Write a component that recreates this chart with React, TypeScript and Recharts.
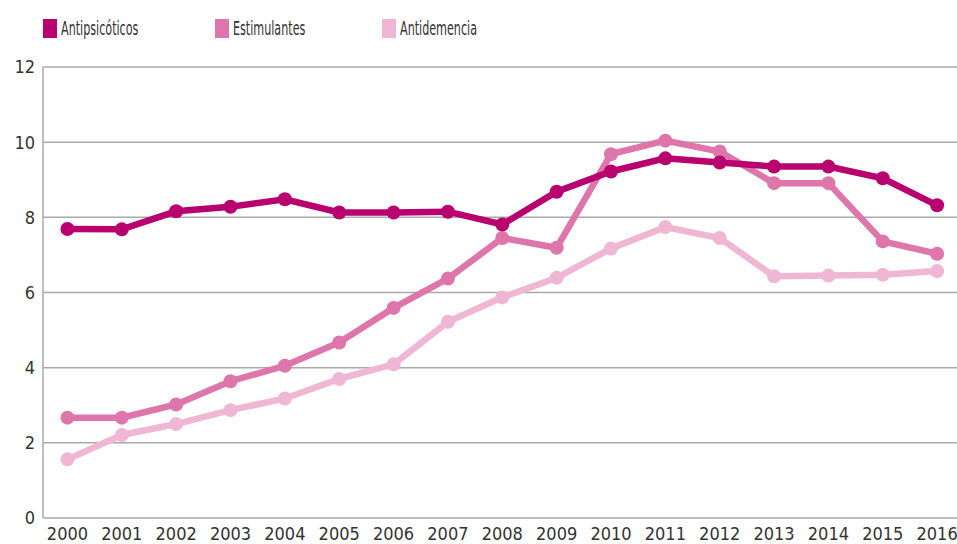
import React from 'react';
import { LineChart, Line, XAxis, YAxis, CartesianGrid } from 'recharts';

const years = ['2000', '2001', '2002', '2003', '2004', '2005', '2006', '2007', '2008', '2009', '2010', '2011', '2012', '2013', '2014', '2015', '2016'];
const antipsicoticos = [7.69, 7.68, 8.16, 8.28, 8.48, 8.13, 8.13, 8.15, 7.81, 8.68, 9.22, 9.57, 9.46, 9.35, 9.35, 9.04, 8.32];
const estimulantes = [2.67, 2.67, 3.02, 3.64, 4.05, 4.67, 5.59, 6.37, 7.45, 7.19, 9.68, 10.04, 9.75, 8.91, 8.91, 7.36, 7.03];
const antidemencia = [1.56, 2.21, 2.5, 2.87, 3.18, 3.7, 4.09, 5.22, 5.87, 6.39, 7.17, 7.74, 7.45, 6.43, 6.45, 6.47, 6.57];
const yTicks = [0, 2, 4, 6, 8, 10, 12];

const series = [
  { key: 'antipsicoticos', name: 'Antipsicóticos', color: '#b8006e' },
  { key: 'estimulantes', name: 'Estimulantes', color: '#de75ab' },
  { key: 'antidemencia', name: 'Antidemencia', color: '#f0b7d5' },
];

const data = years.map((year, i) => ({
  idx: i,
  year,
  antipsicoticos: antipsicoticos[i],
  estimulantes: estimulantes[i],
  antidemencia: antidemencia[i],
}));

// tick marks sit between the categories
const boundaryTicks = years.map((_, i) => i - 0.45);
const labelTicks = years.map((_, i) => i);
const domain: [number, number] = [-0.45, years.length - 0.45];

const FONT = '"DejaVu Sans Condensed", "Liberation Sans Narrow", "Liberation Sans", sans-serif';
const legendLeft = [43, 215, 382];

export default function App() {
  return (
    <div style={{ position: 'fixed', left: 0, top: 0, width: 957, height: 544, overflow: 'hidden', background: '#fff', fontFamily: FONT }}>
      {series.map((s, i) => (
        <div key={s.key} style={{ position: 'absolute', left: legendLeft[i], top: 19, display: 'flex', alignItems: 'center', height: 19 }}>
          <span style={{ display: 'inline-block', width: 14, height: 19, background: s.color, marginRight: 4 }} />
          <span
            style={{
              fontSize: 20,
              color: '#333',
              lineHeight: '19px',
              whiteSpace: 'nowrap',
              display: 'inline-block',
              transform: 'scaleX(0.62)',
              transformOrigin: 'left center',
            }}
          >
            {s.name}
          </span>
        </div>
      ))}
      <div style={{ position: 'absolute', left: 0, top: 0 }}>
        <LineChart width={975} height={570} data={data} margin={{ top: 67, right: 8, bottom: 0, left: 0 }}>
          <CartesianGrid vertical={false} stroke="#aaa" strokeWidth={1.5} />
          <XAxis
            xAxisId="bounds"
            dataKey="idx"
            type="number"
            domain={domain}
            ticks={boundaryTicks}
            height={0}
            tickSize={8}
            tickFormatter={() => ''}
            axisLine={{ stroke: '#aaa', strokeWidth: 1.5 }}
            tickLine={{ stroke: '#aaa', strokeWidth: 1.5 }}
          />
          <XAxis
            dataKey="idx"
            type="number"
            domain={domain}
            ticks={labelTicks}
            height={52}
            tickFormatter={(v: number) => years[v]}
            axisLine={false}
            tickLine={false}
            tickMargin={3}
            interval={0}
            tick={{ fill: '#333', fontSize: 18, fontFamily: FONT }}
          />
          <YAxis
            domain={[0, 12]}
            ticks={yTicks}
            width={43}
            axisLine={{ stroke: '#aaa', strokeWidth: 1.5 }}
            tickLine={false}
            tickMargin={2}
            tick={{ fill: '#333', fontSize: 18, fontFamily: FONT }}
          />
          {[...series].reverse().map((s) => (
            <Line
              key={s.key}
              dataKey={s.key}
              name={s.name}
              type="linear"
              stroke={s.color}
              strokeWidth={6.5}
              dot={{ r: 7, fill: s.color, stroke: 'none' }}
              isAnimationActive={false}
            />
          ))}
        </LineChart>
      </div>
    </div>
  );
}
